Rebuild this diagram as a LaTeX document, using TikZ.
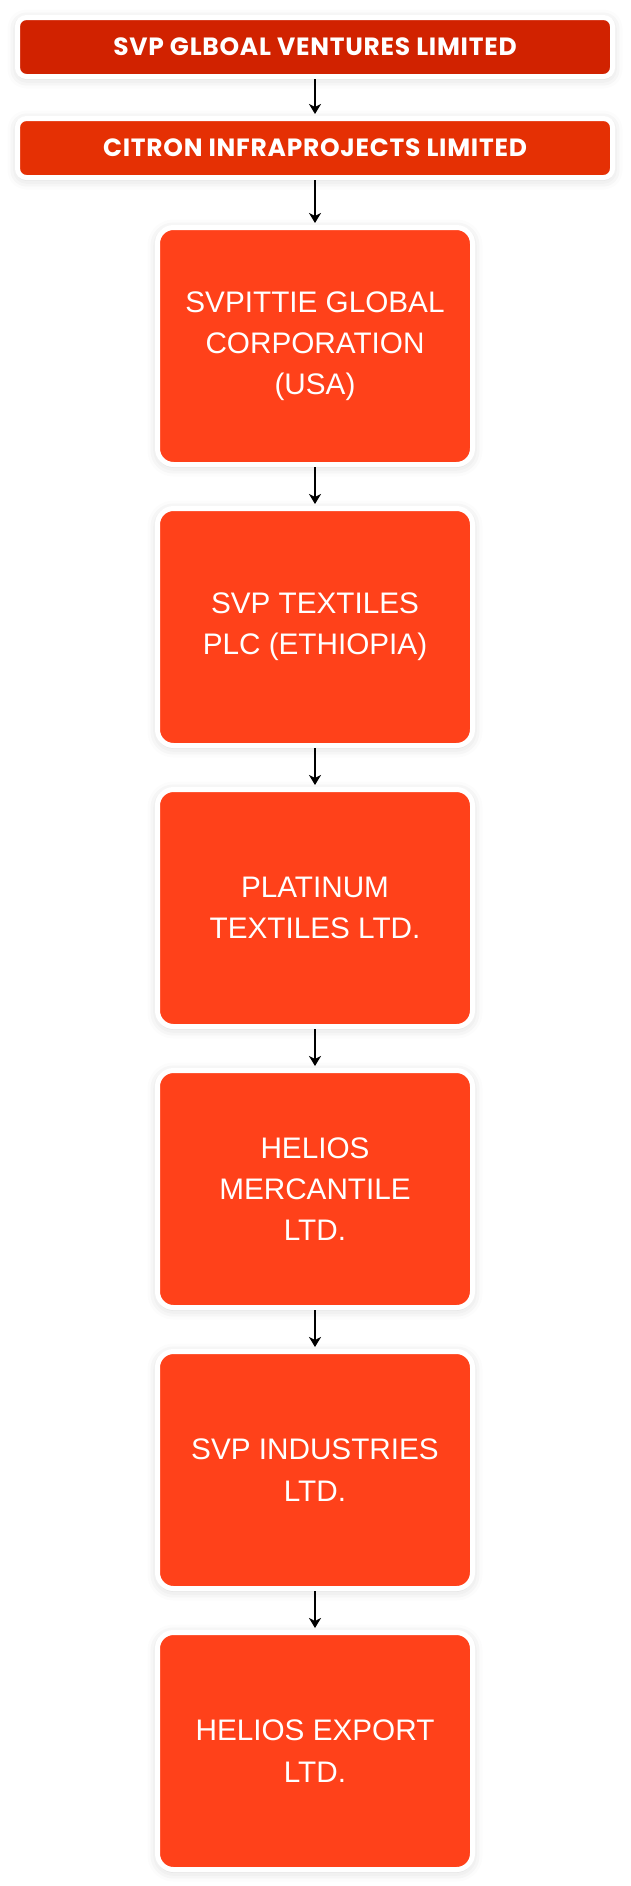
\documentclass[tikz,border=0pt]{standalone}
\usepackage{fontspec}
\setmainfont{Liberation Sans}
\newfontfamily\headfont[LetterSpace=3]{Poppins}
\usetikzlibrary{arrows.meta, shadows.blur}
\definecolor{svpred}{RGB}{209,34,0}
\definecolor{citronred}{RGB}{229,48,4}
\definecolor{unitorange}{RGB}{255,65,26}
\tikzset{
  headbox/.style={draw=white, line width=0.1cm, rounded corners=0.18cm, inner sep=0pt,
    minimum width=11.9cm, minimum height=1.18cm, text=white,
    font=\headfont\bfseries\fontsize{14.2}{16}\selectfont,
    blur shadow={shadow xshift=0cm, shadow yshift=-0.04cm, shadow blur radius=0.2cm, shadow opacity=18}},
  unitbox/.style={draw=white, fill=unitorange, line width=0.1cm, rounded corners=0.32cm, inner sep=0pt,
    minimum width=6.3cm, minimum height=4.74cm, text=white, align=center,
    font=\fontsize{16.9}{23.5}\selectfont,
    blur shadow={shadow xshift=0cm, shadow yshift=-0.04cm, shadow blur radius=0.2cm, shadow opacity=18}},
  owns/.style={line width=0.04cm, -{Stealth[length=0.2cm, width=0.24cm, inset=0.06cm]}, shorten >=0.04cm}
}
\begin{document}
\begin{tikzpicture}
\useasboundingbox (0,0) rectangle (12.6,-37.72);
%\draw[help lines] (0,0) grid (12.6,-37.72); %layout grid
\node[headbox, fill=svpred] (svp) at (6.3,-0.94) {SVP GLBOAL VENTURES LIMITED};
\node[headbox, fill=citronred] (citron) at (6.3,-2.96) {CITRON INFRAPROJECTS LIMITED};
\node[unitbox] (usa) at (6.3,-6.92) {SVPITTIE GLOBAL\\CORPORATION\\(USA)};
\node[unitbox] (ethiopia) at (6.3,-12.54) {SVP TEXTILES\\PLC (ETHIOPIA)};
\node[unitbox] (platinum) at (6.3,-18.16) {PLATINUM\\TEXTILES LTD.};
\node[unitbox] (mercantile) at (6.3,-23.78) {HELIOS\\MERCANTILE\\LTD.};
\node[unitbox] (industries) at (6.3,-29.40) {SVP INDUSTRIES\\LTD.};
\node[unitbox] (export) at (6.3,-35.02) {HELIOS EXPORT\\LTD.};
\draw[owns] (svp) -- (citron);
\draw[owns] (citron) -- (usa);
\draw[owns] (usa) -- (ethiopia);
\draw[owns] (ethiopia) -- (platinum);
\draw[owns] (platinum) -- (mercantile);
\draw[owns] (mercantile) -- (industries);
\draw[owns] (industries) -- (export);
\end{tikzpicture}
\end{document}
